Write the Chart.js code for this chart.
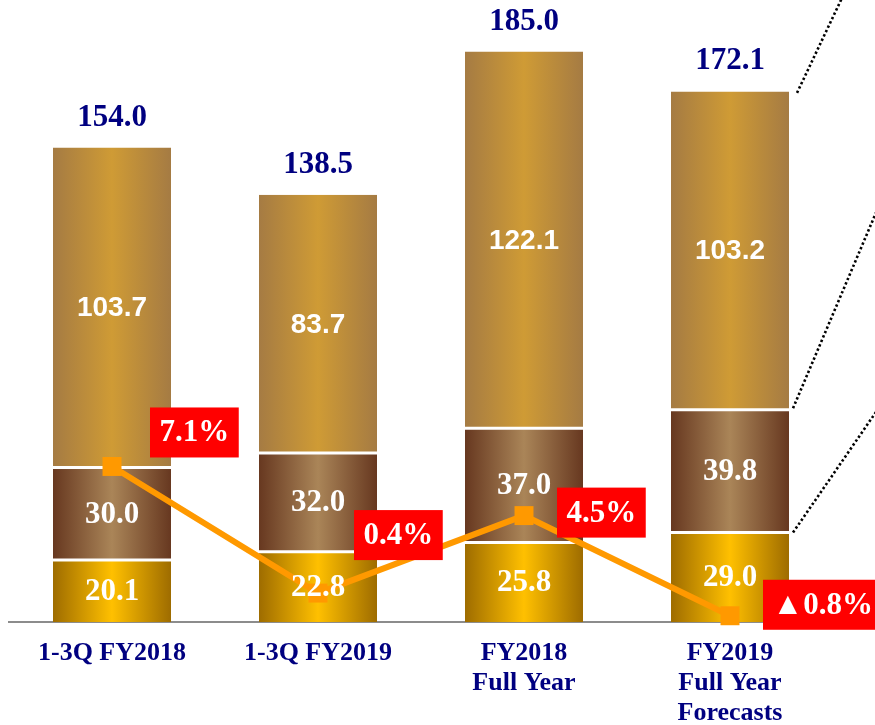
<!DOCTYPE html>
<html><head><meta charset="utf-8">
<script src="https://cdn.jsdelivr.net/npm/chart.js@4"></script>
<style>html,body{margin:0;padding:0;background:#fff;overflow:hidden}canvas{display:block}</style>
</head><body>
<canvas id="c" width="875" height="725"></canvas>
<script>
// ---- data ----
const categories = [["1-3Q FY2018"], ["1-3Q FY2019"], ["FY2018", "Full Year"], ["FY2019", "Full Year", "Forecasts"]];
const segBottom = [20.1, 22.8, 25.8, 29.0];
const segMiddle = [30.0, 32.0, 37.0, 39.8];
const segTop = [103.7, 83.7, 122.1, 103.2];
const totals = [154.0, 138.5, 185.0, 172.1];
const marginPct = [7.1, 0.4, 4.5, -0.8];

// ---- styles ----
const NAVY = '#000080';
const SERIF = '"Liberation Serif", "Times New Roman", serif';
const SANS = '"Liberation Sans", Arial, sans-serif';
const CAT_PCT = 0.573;
const boxOffsets = [[38, -59], [36, -83], [33, -28], [33, -36]];
const leaders = [ // [datasetIndex, startDx, startDy, vecX, vecY]
  [2, 8, 1.5, 45, -95],
  [1, 4, -1.5, 84, -198],
  [0, 4, 0, 84, -122]
];

function fmtPct(v) { return (v < 0 ? '\u25B2' + Math.abs(v).toFixed(1) : v.toFixed(1)) + '%'; }

function grad(edge, mid) {
  return (c) => {
    const chart = c.chart;
    const xs = chart.scales && chart.scales.x;
    if (c.type !== 'data' || !xs || !chart.chartArea) return mid;
    const cx = xs.getPixelForValue(c.dataIndex);
    const w = xs.width / categories.length * CAT_PCT;
    const g = chart.ctx.createLinearGradient(cx - w / 2, 0, cx + w / 2, 0);
    g.addColorStop(0, edge);
    g.addColorStop(0.5, mid);
    g.addColorStop(1, edge);
    return g;
  };
}

const labelPlugin = {
  id: 'labelPlugin',
  afterDatasetsDraw(chart) {
    const ctx = chart.ctx;
    ctx.save();
    ctx.textAlign = 'center';
    ctx.textBaseline = 'middle';
    const fonts = ['bold 31px ' + SERIF, 'bold 31px ' + SERIF, 'bold 28px ' + SANS];
    [0, 1, 2].forEach(di => {
      const meta = chart.getDatasetMeta(di);
      const vals = chart.data.datasets[di].data;
      meta.data.forEach((el, i) => {
        ctx.font = fonts[di];
        ctx.fillStyle = '#fff';
        ctx.fillText(vals[i].toFixed(1), el.x, (el.y + el.base) / 2 + 1);
      });
    });
    // totals
    ctx.font = 'bold 31px ' + SERIF;
    ctx.fillStyle = NAVY;
    chart.getDatasetMeta(2).data.forEach((el, i) => ctx.fillText(totals[i].toFixed(1), el.x, el.y - 30));
    // percentage boxes
    chart.getDatasetMeta(3).data.forEach((pt, i) => {
      const txt = fmtPct(marginPct[i]);
      ctx.font = 'bold 31px ' + SERIF;
      const w = ctx.measureText(txt).width + 19;
      const bx = pt.x + boxOffsets[i][0], by = pt.y + boxOffsets[i][1];
      ctx.fillStyle = '#FF0000';
      ctx.fillRect(bx, by, w, 50);
      ctx.fillStyle = '#fff';
      ctx.fillText(txt, bx + w / 2, by + 26);
    });
    // dotted leader lines from last bar
    ctx.strokeStyle = '#000';
    ctx.lineWidth = 2.6;
    ctx.setLineDash([2.4, 2.4]);
    const last = categories.length - 1;
    leaders.forEach(([di, sdx, sdy, vx, vy]) => {
      const el = chart.getDatasetMeta(di).data[last];
      const sx = el.x + el.width / 2 + sdx, sy = el.y + sdy;
      ctx.beginPath();
      ctx.moveTo(sx, sy);
      ctx.lineTo(sx + vx, sy + vy);
      ctx.stroke();
    });
    ctx.restore();
  }
};

new Chart(document.getElementById('c'), {
  data: {
    labels: categories,
    datasets: [
      { type: 'bar', label: 'bottom', data: segBottom, backgroundColor: grad('#9E6C00', '#FFC000'),
        borderColor: '#fff', borderWidth: { top: 1.5, bottom: 0, left: 0, right: 0 }, borderSkipped: false, order: 1, stack: 's' },
      { type: 'bar', label: 'middle', data: segMiddle, backgroundColor: grad('#673820', '#AA8558'),
        borderColor: '#fff', borderWidth: { top: 1.5, bottom: 1.5, left: 0, right: 0 }, borderSkipped: false, order: 1, stack: 's' },
      { type: 'bar', label: 'top', data: segTop, backgroundColor: grad('#A57B43', '#CF9B35'),
        borderColor: '#fff', borderWidth: { top: 0, bottom: 1.5, left: 0, right: 0 }, borderSkipped: false, order: 1, stack: 's' },
      { type: 'line', label: 'margin', data: marginPct, yAxisID: 'y2', borderColor: '#FF9900', borderWidth: 6,
        pointStyle: 'rect', pointRadius: 13.4, pointHoverRadius: 13.4, pointBackgroundColor: '#FF9900',
        pointBorderColor: '#FF9900', pointBorderWidth: 0, tension: 0, order: 0, fill: false, clip: false }
    ]
  },
  options: {
    responsive: false,
    animation: false,
    layout: { autoPadding: false, padding: { left: 9, right: 42, top: 5, bottom: -19 } },
    plugins: { legend: { display: false }, tooltip: { enabled: false } },
    datasets: { bar: { categoryPercentage: CAT_PCT, barPercentage: 1 } },
    scales: {
      x: {
        stacked: true,
        grid: { display: false, drawTicks: false },
        border: { display: true, color: '#8c8c8c', width: 2 },
        ticks: { color: NAVY, padding: 16, maxRotation: 0, autoSkip: false,
          font: { family: SERIF, size: 26, weight: 'bold', lineHeight: '30px' } }
      },
      y: { stacked: true, display: false, min: 0, max: 200 },
      y2: { display: false, min: -1.13, max: 31.52 }
    }
  },
  plugins: [labelPlugin]
});
</script>
</body></html>
